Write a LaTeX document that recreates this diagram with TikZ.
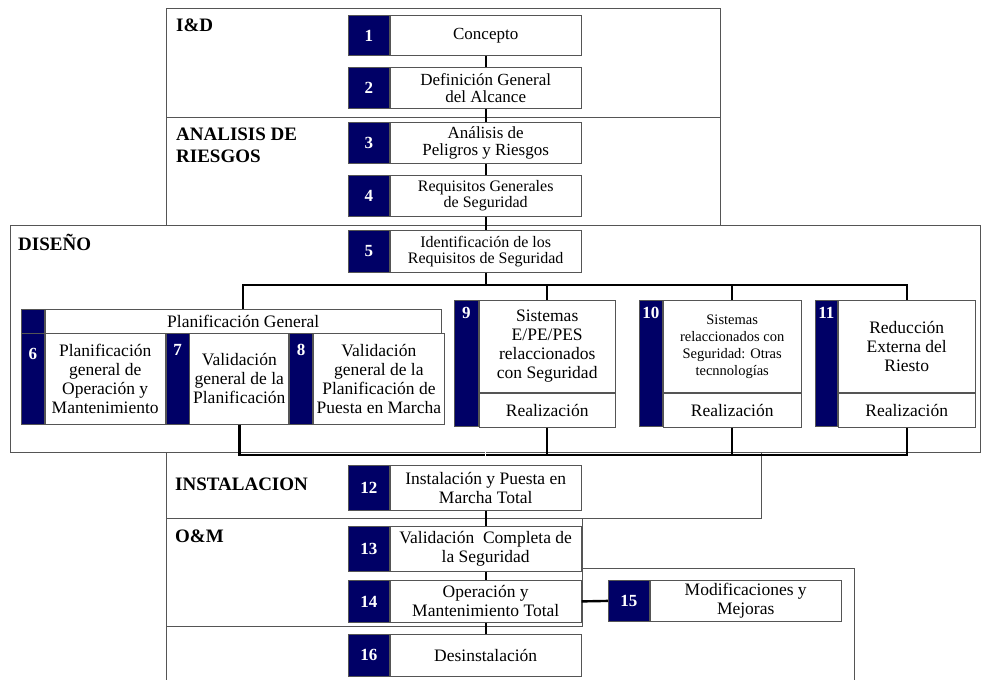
\documentclass[tikz,border=0pt]{standalone}
\usepackage{fontspec}
\setmainfont{Liberation Serif}
\usetikzlibrary{calc}
\definecolor{azul}{HTML}{000066}
\definecolor{gris}{HTML}{555555}
\newcommand{\tam}[2]{\fontsize{#1}{#2}\selectfont}
\newcommand{\etapa}[7][]{\node[numbox, minimum width=41, minimum height=#6, anchor=north west] (n#2) at (#4,#5) {#3};
  \node[txtbox, #1, minimum width=191, minimum height=#6, anchor=north west] (#2) at (n#2.north east) {#7};}
\tikzset{
  marco/.style={draw=gris, fill=white, line width=0.8pt},
  numbox/.style={draw=gris, fill=azul, text=white, font=\bfseries\tam{17}{19}, inner sep=0pt, line width=0.8pt},
  numtxt/.style={text=white, font=\bfseries\tam{17}{19}, inner sep=1pt, anchor=north},
  txtbox/.style={draw=gris, fill=white, align=center, font=\tam{17}{17}, inner sep=1pt, line width=0.8pt},
  grande/.style={font=\tam{17.5}{19}},
  enlace/.style={line width=2.4pt, black},
  titulo/.style={font=\bfseries\tam{19}{22}, align=left, anchor=north west, inner sep=0pt}
}

\begin{document}
\begin{tikzpicture}[x=1pt,y=-1pt]
\clip (0,0) rectangle (981,679);
% marcos de las fases
\draw[marco] (166,568) rectangle (854,700);
\draw[marco] (166,518) rectangle (582,626);
\draw[marco] (166,452) rectangle (761,518);
\draw[marco] (166,8) rectangle (720,117);
\draw[marco] (166,117) rectangle (720,225);
\draw[marco] (10,225) rectangle (980,452);
\node[titulo] (tid) at (176,19) {I\&D};
\node[titulo] (tar) at (176,128) {ANALISIS DE\\RIESGOS};
\node[titulo] (tdi) at (18,234) {DISEÑO};
\node[titulo] (tin) at (175,478) {INSTALACION};
\node[titulo] (tom) at (175,530) {O\&M};

% etapas
\etapa{e1}{1}{348}{15}{40}{Concepto}
\etapa{e2}{2}{348}{67}{41}{Definición General\\del Alcance}
\etapa{e3}{3}{348}{122}{41}{Análisis de\\Peligros y Riesgos}
\etapa[font=\tam{16}{16}]{e4}{4}{348}{175}{41}{Requisitos Generales\\de Seguridad}
\etapa[font=\tam{16}{16}]{e5}{5}{348}{230}{42}{Identificación de los\\Requisitos de Seguridad}

% planificacion general
\node[numbox, minimum width=23, minimum height=24, anchor=north west] (npg) at (21,309) {};
\node[txtbox, grande, minimum width=396, minimum height=24, anchor=north west] (pg) at (npg.north east) {Planificación General};
\node[numbox, minimum width=23, minimum height=91, anchor=north west] (n6) at (21,333) {};
\node[txtbox, grande, minimum width=120, minimum height=91, anchor=north west] (e6) at (n6.north east) {Planificación\\general de\\Operación y\\Mantenimiento};
\node[numbox, minimum width=23, minimum height=91, anchor=north west] (n7) at (e6.north east) {};
\node[txtbox, grande, minimum width=99, minimum height=91, anchor=north west] (e7) at (n7.north east) {Validación\\general de la\\Planificación};
\node[numbox, minimum width=23, minimum height=91, anchor=north west] (n8) at (e7.north east) {};
\node[txtbox, grande, minimum width=131, minimum height=91, anchor=north west] (e8) at (n8.north east) {Validación\\general de la\\Planificación de\\Puesta en Marcha};
\node[numtxt] (t6) at ([yshift=-14pt]n6.north) {6};
\node[numtxt] (t7) at ([yshift=-10pt]n7.north) {7};
\node[numtxt] (t8) at ([yshift=-10pt]n8.north) {8};

% realizacion
\node[numbox, minimum width=24, minimum height=126, anchor=north west] (n9) at (454,300) {};
\node[txtbox, grande, minimum width=136, minimum height=92, anchor=north west] (e9) at (n9.north east) {Sistemas\\E/PE/PES\\relaccionados\\con Seguridad};
\node[txtbox, grande, minimum width=136, minimum height=34, anchor=north west] (r9) at (e9.south west) {Realización};
\node[numbox, minimum width=23, minimum height=126, anchor=north west] (n10) at (639,300) {};
\node[txtbox, font=\tam{14.5}{17}, minimum width=138, minimum height=92, anchor=north west] (e10) at (n10.north east) {Sistemas\\relaccionados con\\Seguridad: Otras\\tecnnologías};
\node[txtbox, grande, minimum width=138, minimum height=34, anchor=north west] (r10) at (e10.south west) {Realización};
\node[numbox, minimum width=22, minimum height=126, anchor=north west] (n11) at (815,300) {};
\node[txtbox, grande, minimum width=137, minimum height=92, anchor=north west] (e11) at (n11.north east) {Reducción\\Externa del\\Riesto};
\node[txtbox, grande, minimum width=137, minimum height=34, anchor=north west] (r11) at (e11.south west) {Realización};
\node[numtxt] (t9) at ([yshift=-6pt]n9.north) {9};
\node[numtxt] (t10) at ([yshift=-6pt]n10.north) {10};
\node[numtxt] (t11) at ([yshift=-6pt]n11.north) {11};

\etapa[grande]{e12}{12}{348}{465}{45}{Instalación y Puesta en\\Marcha Total}
\etapa[grande]{e13}{13}{348}{526}{45}{Validación~ Completa de\\la Seguridad}
\etapa[grande]{e14}{14}{348}{580}{42}{Operación y\\Mantenimiento Total}
\etapa[grande]{e15}{15}{608}{580}{41}{Modificaciones y\\Mejoras}
\etapa[grande]{e16}{16}{348}{634}{42}{Desinstalación}

% enlaces
\draw[enlace] (e1) -- (e2);
\draw[enlace] (e2) -- (e3);
\draw[enlace] (e3) -- (e4);
\draw[enlace] (e4) -- (e5);
\coordinate (bs) at ($(e5.south)+(0,12)$);
\draw[enlace] (e5) -- (bs);
\draw[enlace] (pg.north) |- (bs) -| (e11.north);
\draw[enlace] (bs) -| (e9.north);
\draw[enlace] (bs) -| (e10.north);
\coordinate (bi) at ($(e12.north)+(0,-10)$);
\draw[enlace] (e7.south) |- (bi) -| (r11.south);
\draw[enlace] (r9.south) -- (r9.south |- bi);
\draw[enlace] (r10.south) -- (r10.south |- bi);
\draw[white, line width=1.2pt] ($(bi)+(0,-6)$) -- (e12.north);
\draw[enlace] (e12) -- (e13);
\draw[enlace] (e13) -- (e14);
\draw[enlace] (e14) -- (e16);
\draw[enlace] (e14.east) -- (ne15.west);
\end{tikzpicture}
\end{document}
